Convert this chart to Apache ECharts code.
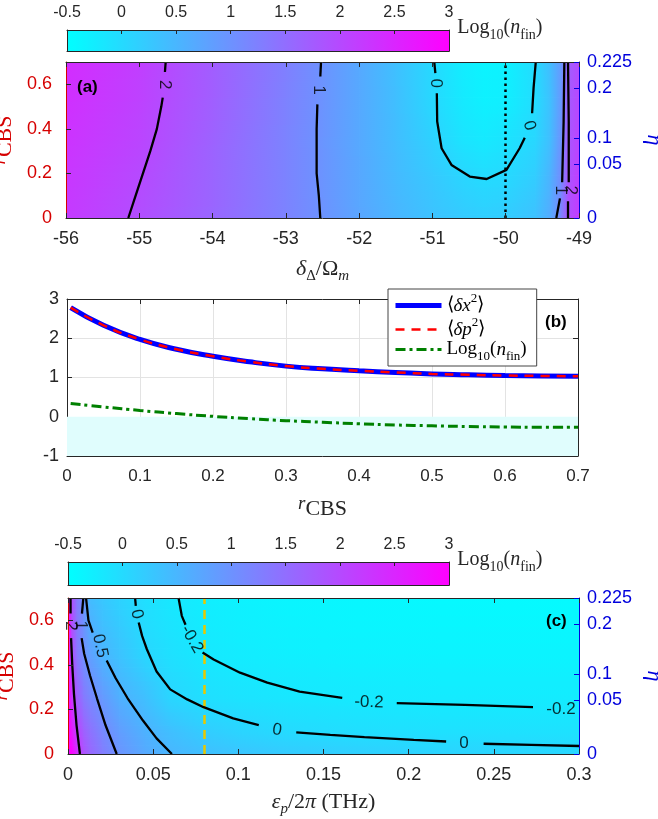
<!DOCTYPE html>
<html>
<head>
<meta charset="utf-8">
<script src="https://cdn.jsdelivr.net/npm/echarts@6/dist/echarts.min.js"></script>
<style>
  html, body { margin: 0; padding: 0; background: #fff; }
  #chart { width: 658px; height: 819px; }
</style>
</head>
<body>
<div id="chart"></div>
<script>
// colorbar
const cbTicks = [-0.5, 0, 0.5, 1, 1.5, 2, 2.5, 3];

// eta axis (right side of a and c): eta label -> r_CBS position
const etaLabels = ['0', '0.05', '0.1', '0.2', '0.225'];
const etaAtR = [0, 0.243, 0.36, 0.584, 0.7];
const rTicks = [0, 0.2, 0.4, 0.6];

// ---- panel (a): Log10(n_fin) over delta/Omega_m and r_CBS
const aX = [-56, -55, -54, -53, -52.5, -52, -51.5, -51, -50.6, -50.3, -50, -49.6, -49.4, -49.25, -49.15, -49];
const aR = [0, 0.175, 0.35, 0.525, 0.7];
const aRow0 = [2.2, 1.93, 1.6, 1.2, 0.98, 0.72, 0.5, 0.33, 0.22, 0.17, 0.2, 0.35, 0.65, 1.2, 1.9, 2.2];
const aRow1 = [2.25, 1.99, 1.62, 1.2, 0.97, 0.7, 0.45, 0.25, 0.08, 0.0, 0.03, 0.2, 0.55, 1.1, 1.85, 2.15];
const aRow2 = [2.3, 2.06, 1.65, 1.2, 0.96, 0.68, 0.4, 0.12, -0.12, -0.2, -0.12, 0.05, 0.4, 1.0, 1.8, 2.1];
const aRow3 = [2.35, 2.1, 1.7, 1.22, 0.98, 0.68, 0.38, 0.03, -0.2, -0.3, -0.27, -0.02, 0.35, 0.92, 1.75, 2.05];
const aRow4 = [2.4, 2.15, 1.72, 1.25, 0.99, 0.68, 0.36, 0.01, -0.25, -0.35, -0.32, -0.01, 0.4, 0.9, 1.7, 2.0];
const aMark = -50;

// contour segments (a)
const aC2 = [
  [[-55.15, 0], [-55.05, 0.1], [-54.95, 0.2], [-54.85, 0.3], [-54.76, 0.4], [-54.7, 0.5], [-54.68, 0.54]],
  [[-54.65, 0.655], [-54.64, 0.7]]
];
const aC1 = [
  [[-52.53, 0], [-52.55, 0.1], [-52.58, 0.2], [-52.58, 0.3], [-52.58, 0.4], [-52.57, 0.51]],
  [[-52.53, 0.635], [-52.52, 0.7]]
];
const aC0 = [
  [[-50.975, 0.7], [-50.96, 0.65]],
  [[-50.94, 0.56], [-50.935, 0.433], [-50.875, 0.313], [-50.74, 0.238], [-50.49, 0.186], [-50.26, 0.175], [-49.99, 0.216], [-49.81, 0.313], [-49.74, 0.36]],
  [[-49.64, 0.47], [-49.62, 0.583], [-49.59, 0.7]]
];
const aCr1 = [
  [[-49.2, 0.7], [-49.21, 0.43], [-49.23, 0.16]],
  [[-49.26, 0.088], [-49.31, 0]]
];
const aCr2 = [
  [[-49.15, 0.7], [-49.14, 0.43], [-49.14, 0.16]],
  [[-49.15, 0.075], [-49.15, 0]]
];
const aLabelPos = [[-54.66, 0.598], [-52.55, 0.575], [-50.95, 0.605], [-49.68, 0.415], [-49.25, 0.125], [-49.12, 0.125]];
const aLabelText = ['2', '1', '0', '0', '1', '2'];
const aLabelRot = [-90, -90, -90, -75, -90, -90];

// ---- panel (b)
const bR = [0.005, 0.05, 0.1, 0.15, 0.2, 0.25, 0.3, 0.35, 0.4, 0.45, 0.5, 0.55, 0.6, 0.65, 0.7];
const bDx2 = [2.78, 2.33, 1.97, 1.72, 1.54, 1.40, 1.29, 1.22, 1.17, 1.13, 1.09, 1.07, 1.05, 1.04, 1.03];
const bDp2 = [2.78, 2.33, 1.97, 1.72, 1.54, 1.40, 1.29, 1.22, 1.17, 1.13, 1.09, 1.07, 1.05, 1.04, 1.03];
const bLogN = [0.34, 0.25, 0.16, 0.08, 0.01, -0.05, -0.1, -0.14, -0.18, -0.21, -0.23, -0.25, -0.26, -0.27, -0.27];
const bNames = ['dx2', 'dp2', 'logn'];

// ---- panel (c): Log10(n_fin) over eps_p/2pi and r_CBS
const cX = [0, 0.002, 0.005, 0.009, 0.013, 0.02, 0.03, 0.045, 0.06, 0.08, 0.1, 0.13, 0.17, 0.22, 0.3];
const cR = [0, 0.1, 0.25, 0.45, 0.7];
const cRow0 = [3.5, 3.0, 2.4, 1.9, 1.6, 1.3, 0.97, 0.68, 0.5, 0.38, 0.3, 0.22, 0.16, 0.1, 0.06];
const cRow1 = [3.5, 2.7, 2.1, 1.7, 1.45, 1.15, 0.85, 0.57, 0.38, 0.2, 0.1, 0.0, -0.05, -0.08, -0.1];
const cRow2 = [3.4, 2.3, 1.75, 1.35, 1.15, 0.92, 0.6, 0.38, 0.07, -0.06, -0.11, -0.16, -0.2, -0.22, -0.23];
const cRow3 = [3.3, 1.98, 1.4, 1.02, 0.8, 0.52, 0.33, 0.05, -0.08, -0.19, -0.24, -0.29, -0.32, -0.34, -0.35];
const cRow4 = [3.2, 1.95, 1.35, 1.0, 0.42, 0.27, 0.12, -0.07, -0.18, -0.27, -0.32, -0.37, -0.4, -0.42, -0.44];
const cMark = 0.08;

const cC2 = [
  [[0.0015, 0.7], [0.0015, 0.63]],
  [[0.0018, 0.52], [0.0025, 0.4], [0.0035, 0.27], [0.005, 0.13], [0.007, 0]]
];
const cC1 = [
  [[0.009, 0.7], [0.0082, 0.63]],
  [[0.008, 0.52], [0.0095, 0.45], [0.013, 0.35], [0.017, 0.25], [0.022, 0.13], [0.0286, 0]]
];
const cC05 = [
  [[0.0106, 0.7], [0.012, 0.6], [0.0145, 0.545]],
  [[0.0227, 0.42], [0.028, 0.34], [0.035, 0.25], [0.044, 0.15], [0.052, 0.07], [0.061, 0]]
];
const cC0 = [
  [[0.0394, 0.7], [0.0398, 0.665]],
  [[0.0415, 0.59], [0.0435, 0.53], [0.0463, 0.47], [0.052, 0.37], [0.06, 0.29], [0.07, 0.245], [0.0796, 0.21], [0.097, 0.16], [0.112, 0.13]],
  [[0.134, 0.097], [0.154, 0.086], [0.174, 0.076], [0.203, 0.063], [0.222, 0.056]],
  [[0.244, 0.046], [0.272, 0.041], [0.3, 0.036]]
];
const cCm02 = [
  [[0.0649, 0.7], [0.0668, 0.62], [0.069, 0.58]],
  [[0.079, 0.455], [0.0855, 0.424], [0.101, 0.365], [0.117, 0.32], [0.136, 0.28], [0.154, 0.26], [0.161, 0.252]],
  [[0.193, 0.228], [0.233, 0.22], [0.273, 0.21]]
];
const cLabelPos = [[0.0016, 0.575], [0.0075, 0.578], [0.0188, 0.485], [0.0404, 0.628], [0.0727, 0.515],
                   [0.1227, 0.108], [0.1767, 0.232], [0.2325, 0.047], [0.2894, 0.202]];
const cLabelText = ['2', '1', '0.5', '0', '-0.2', '0', '-0.2', '0', '-0.2'];
const cLabelRot = [-90, -90, -78, -78, -60, -8, -2, 0, 0];

// ---------- helpers
const TXT = '#262626', RED = '#d60000', BLUE = '#0000dd';
const SANS = 'Liberation Sans', SERIF = 'Liberation Serif';

function cool(v) {
  const lo = cbTicks[0], hi = cbTicks[cbTicks.length - 1];
  const t = Math.min(1, Math.max(0, (v - lo) / (hi - lo)));
  return 'rgb(' + Math.round(255 * t) + ',' + Math.round(255 * (1 - t)) + ',255)';
}

function cells(xs, ys, rows) {
  const out = [];
  for (let i = 0; i < ys.length - 1; i++) {
    for (let j = 0; j < xs.length - 1; j++) {
      out.push([xs[j], xs[j + 1], ys[i], ys[i + 1], rows[i][j], rows[i][j + 1], rows[i + 1][j], rows[i + 1][j + 1]]);
    }
  }
  return out;
}

function renderCell(params, api) {
  const x0 = api.value(0), x1 = api.value(1), y0 = api.value(2), y1 = api.value(3);
  const v00 = api.value(4), v10 = api.value(5), v01 = api.value(6), v11 = api.value(7);
  const p0 = api.coord([x0, y0]), p1 = api.coord([x1, y1]);
  const n = 10, h = (p1[1] - p0[1]) / n, children = [];
  for (let k = 0; k < n; k++) {
    const f = (k + 0.5) / n;
    const vl = v00 + (v01 - v00) * f, vr = v10 + (v11 - v10) * f;
    children.push({
      type: 'rect',
      shape: { x: p0[0], y: p0[1] + h * (k + 1), width: p1[0] - p0[0] + 0.8, height: -h + 0.8 },
      style: { fill: { type: 'linear', x: 0, y: 0, x2: 1, y2: 0,
        colorStops: [{ offset: 0, color: cool(vl) }, { offset: 1, color: cool(vr) }] } }
    });
  }
  return { type: 'group', children: children };
}

function mathRich(color, size) {
  return {
    n: { fontFamily: SERIF, fontSize: size, lineHeight: size + 8, color: color },
    i: { fontFamily: SERIF, fontSize: size, lineHeight: size + 8, color: color, fontStyle: 'italic' },
    s: { fontFamily: SERIF, fontSize: Math.round(size * 0.7), lineHeight: Math.round(size * 0.7), color: color, verticalAlign: 'bottom' },
    si: { fontFamily: SERIF, fontSize: Math.round(size * 0.7), lineHeight: Math.round(size * 0.7), color: color, fontStyle: 'italic', verticalAlign: 'bottom' },
    p: { fontFamily: SERIF, fontSize: Math.round(size * 0.7), lineHeight: Math.round(size * 0.7), color: color, verticalAlign: 'top' },
    r: { fontFamily: SERIF, fontSize: Math.round(size * 0.85), lineHeight: Math.round(size * 0.85), color: color, fontStyle: 'italic', verticalAlign: 'top' }
  };
}

function boxAxis(grid, pos, min, max, opts) {
  return Object.assign({
    gridIndex: grid, position: pos, type: 'value', min: min, max: max, z: 10,
    axisLine: { show: true, onZero: false, lineStyle: { color: TXT, width: 1 } },
    axisTick: { show: false }, axisLabel: { show: false }, splitLine: { show: false }
  }, opts || {});
}

const logName = '{n|Log}{s|10}{n|(}{i|n}{s|fin}{n|)}';

function cbAxis(grid) {
  return boxAxis(grid, 'top', cbTicks[0], cbTicks[cbTicks.length - 1], {
    interval: 0.5,
    axisTick: { show: true, inside: true, length: 4, lineStyle: { color: TXT } },
    axisLabel: { show: true, margin: 9, color: TXT, fontFamily: SANS, fontSize: 16,
      formatter: v => String(v) },
    name: logName, nameLocation: 'end', nameGap: 8,
    nameTextStyle: { rich: mathRich(TXT, 20), verticalAlign: 'middle', padding: [0, 0, 4, 0] }
  });
}

function rAxis(grid) {
  return boxAxis(grid, 'left', 0, 0.7, {
    axisLine: { show: true, onZero: false, lineStyle: { color: RED } },
    axisTick: { show: true, inside: true, length: 5, customValues: rTicks, lineStyle: { color: TXT } },
    axisLabel: { show: true, customValues: rTicks, margin: 14, color: RED, fontFamily: SANS, fontSize: 18,
      formatter: v => String(v) },
    name: '{r|r}{n|CBS}', nameLocation: 'middle', nameGap: 35,
    nameTextStyle: { rich: mathRich(RED, 22) }
  });
}

function etaAxis(grid) {
  return boxAxis(grid, 'right', 0, 0.7, {
    axisLine: { show: true, onZero: false, lineStyle: { color: BLUE } },
    axisTick: { show: true, inside: true, length: 5, customValues: etaAtR, lineStyle: { color: BLUE } },
    axisLabel: { show: true, customValues: etaAtR, margin: 8, color: BLUE, fontFamily: SANS, fontSize: 18,
      formatter: v => etaLabels[etaAtR.indexOf(v)] },
    name: '{i|η}', nameLocation: 'middle', nameGap: 58, nameRotate: -90,
    nameTextStyle: { rich: mathRich(BLUE, 22) }
  });
}

function contourSeries(segs, xi, yi) {
  return segs.map(seg => ({
    type: 'line', xAxisIndex: xi, yAxisIndex: yi, data: seg, symbol: 'none', silent: true,
    lineStyle: { color: '#000', width: 2.3 }, z: 5, animation: false, clip: true
  }));
}

function labelSeries(pos, text, rot, xi, yi) {
  return {
    type: 'scatter', xAxisIndex: xi, yAxisIndex: yi, symbolSize: 0, silent: true, z: 6, animation: false,
    data: pos.map((p, k) => ({
      value: p,
      label: { show: true, position: 'inside', formatter: text[k], rotate: rot[k],
        color: '#000', fontFamily: SANS, fontSize: 17 }
    }))
  };
}

// ---------- option
const xAxes = [
  cbAxis(0),
  boxAxis(0, 'bottom', cbTicks[0], cbTicks[cbTicks.length - 1]),
  boxAxis(1, 'bottom', aX[0], aX[aX.length - 1], {
    interval: 1,
    axisTick: { show: true, inside: true, length: 5, lineStyle: { color: TXT } },
    axisLabel: { show: true, margin: 12, color: TXT, fontFamily: SANS, fontSize: 18 },
    name: '{i|δ}{s|Δ}{n|/Ω}{si|m}', nameLocation: 'middle', nameGap: 36,
    nameTextStyle: { rich: mathRich(TXT, 22) }
  }),
  boxAxis(1, 'top', aX[0], aX[aX.length - 1], {
    interval: 1, axisTick: { show: true, inside: true, length: 5, lineStyle: { color: TXT } }
  }),
  boxAxis(2, 'bottom', 0, 0.7, {
    interval: 0.1, z: 0,
    axisTick: { show: true, inside: true, length: 5, lineStyle: { color: TXT } },
    axisLabel: { show: true, margin: 12, color: TXT, fontFamily: SANS, fontSize: 17 },
    splitLine: { show: true, lineStyle: { color: '#e3e3e3', width: 1 } },
    name: '{r|r}{n|CBS}', nameLocation: 'middle', nameGap: 38,
    nameTextStyle: { rich: mathRich(TXT, 22) }
  }),
  boxAxis(2, 'top', 0, 0.7, {
    interval: 0.1, z: 0, axisTick: { show: true, inside: true, length: 5, lineStyle: { color: TXT } }
  }),
  cbAxis(3),
  boxAxis(3, 'bottom', cbTicks[0], cbTicks[cbTicks.length - 1]),
  boxAxis(4, 'bottom', 0, 0.3, {
    interval: 0.05,
    axisTick: { show: true, inside: true, length: 5, lineStyle: { color: TXT } },
    axisLabel: { show: true, margin: 12, color: TXT, fontFamily: SANS, fontSize: 18 },
    name: '{i|ε}{si|p}{n|/2}{i|π}{n| (THz)}', nameLocation: 'middle', nameGap: 33,
    nameTextStyle: { rich: mathRich(TXT, 22) }
  }),
  boxAxis(4, 'top', 0, 0.3, {
    interval: 0.05, axisTick: { show: true, inside: true, length: 5, lineStyle: { color: TXT } }
  })
];

const yAxes = [
  boxAxis(0, 'left', 0, 1),
  boxAxis(0, 'right', 0, 1),
  rAxis(1),
  etaAxis(1),
  boxAxis(2, 'left', -1, 3, {
    interval: 1, z: 0,
    axisTick: { show: true, inside: true, length: 5, lineStyle: { color: TXT } },
    axisLabel: { show: true, margin: 8, color: TXT, fontFamily: SANS, fontSize: 18 },
    splitLine: { show: true, lineStyle: { color: '#e3e3e3', width: 1 } }
  }),
  boxAxis(2, 'right', -1, 3, {
    interval: 1, z: 0, axisTick: { show: true, inside: true, length: 5, lineStyle: { color: TXT } }
  }),
  boxAxis(3, 'left', 0, 1),
  boxAxis(3, 'right', 0, 1),
  rAxis(4),
  etaAxis(4)
];

const cbCell = [[cbTicks[0], cbTicks[cbTicks.length - 1], 0, 1,
  cbTicks[0], cbTicks[cbTicks.length - 1], cbTicks[0], cbTicks[cbTicks.length - 1]]];

const legendRich = mathRich('#000', 19);
const legendText = {
  dx2: '{n|⟨}{i|δx}{p|2}{n|⟩}',
  dp2: '{n|⟨}{i|δp}{p|2}{n|⟩}',
  logn: logName
};

const series = [
  { type: 'custom', xAxisIndex: 0, yAxisIndex: 0, renderItem: renderCell, data: cbCell, z: -1,
    encode: { x: [0, 1], y: [2, 3] }, silent: true, animation: false },
  { type: 'custom', xAxisIndex: 6, yAxisIndex: 6, renderItem: renderCell, data: cbCell, z: -1,
    encode: { x: [0, 1], y: [2, 3] }, silent: true, animation: false },
  { type: 'custom', xAxisIndex: 2, yAxisIndex: 2, renderItem: renderCell, clip: true, z: -1,
    data: cells(aX, aR, [aRow0, aRow1, aRow2, aRow3, aRow4]),
    encode: { x: [0, 1], y: [2, 3] }, silent: true, animation: false },
  { type: 'custom', xAxisIndex: 8, yAxisIndex: 8, renderItem: renderCell, clip: true, z: -1,
    data: cells(cX, cR, [cRow0, cRow1, cRow2, cRow3, cRow4]),
    encode: { x: [0, 1], y: [2, 3] }, silent: true, animation: false },
  ...contourSeries(aC2, 2, 2), ...contourSeries(aC1, 2, 2), ...contourSeries(aC0, 2, 2),
  ...contourSeries(aCr1, 2, 2), ...contourSeries(aCr2, 2, 2),
  labelSeries(aLabelPos, aLabelText, aLabelRot, 2, 2),
  ...contourSeries(cC2, 8, 8), ...contourSeries(cC1, 8, 8), ...contourSeries(cC05, 8, 8),
  ...contourSeries(cC0, 8, 8), ...contourSeries(cCm02, 8, 8),
  labelSeries(cLabelPos, cLabelText, cLabelRot, 8, 8),
  { type: 'line', xAxisIndex: 2, yAxisIndex: 2, data: [], symbol: 'none', silent: true, z: 5, animation: false,
    markLine: { silent: true, symbol: 'none', label: { show: false },
      lineStyle: { type: [2.5, 3.5], color: '#000', width: 2.5 }, data: [{ xAxis: aMark }] } },
  { type: 'line', xAxisIndex: 8, yAxisIndex: 8, data: [], symbol: 'none', silent: true, z: 4, animation: false,
    markLine: { silent: true, symbol: 'none', label: { show: false },
      lineStyle: { type: [9, 6], color: '#e8c800', width: 2.5 }, data: [{ xAxis: cMark }] } },
  { name: bNames[0], type: 'line', xAxisIndex: 4, yAxisIndex: 4, symbol: 'none', smooth: true,
    data: bR.map((r, k) => [r, bDx2[k]]), lineStyle: { color: '#0000ff', width: 5 }, itemStyle: { color: '#0000ff' },
    z: 3, animation: false,
    markArea: { silent: true, itemStyle: { color: '#e0fdfd' }, data: [[{ yAxis: -1 }, { yAxis: 0 }]] } },
  { name: bNames[1], type: 'line', xAxisIndex: 4, yAxisIndex: 4, symbol: 'none', smooth: true,
    data: bR.map((r, k) => [r, bDp2[k]]), lineStyle: { color: '#ff0000', width: 2.5, type: [9, 7] },
    itemStyle: { color: '#ff0000' }, z: 4, animation: false },
  { name: bNames[2], type: 'line', xAxisIndex: 4, yAxisIndex: 4, symbol: 'none', smooth: true,
    data: bR.map((r, k) => [r, bLogN[k]]), lineStyle: { color: '#008000', width: 3, type: [10, 4, 3, 4] },
    itemStyle: { color: '#008000' }, z: 4, animation: false }
];

const panelTag = (x, y, t) => ({ type: 'text', left: x, top: y, z: 100,
  style: { text: t, font: 'bold 17px "Liberation Sans"', fill: '#000' } });

const gridBase = { containLabel: false, outerBoundsMode: 'none' };

const option = {
  animation: false,
  backgroundColor: '#fff',
  grid: [
    Object.assign({ left: 67, top: 30, width: 382, height: 21 }, gridBase),
    Object.assign({ left: 66, top: 62, width: 513, height: 156 }, gridBase),
    Object.assign({ left: 67, top: 299, width: 511, height: 157 }, gridBase),
    Object.assign({ left: 68, top: 562, width: 381, height: 23 }, gridBase),
    Object.assign({ left: 68, top: 598, width: 511, height: 156 }, gridBase)
  ],
  xAxis: xAxes,
  yAxis: yAxes,
  legend: {
    data: bNames, left: 388, top: 289, orient: 'vertical',
    backgroundColor: '#fff', borderColor: '#444', borderWidth: 1, borderRadius: 0,
    padding: [3, 10, 3, 5], itemGap: 1, itemWidth: 46, itemHeight: 14,
    itemStyle: { color: 'rgba(0,0,0,0)', borderWidth: 0 },
    lineStyle: { width: 'inherit' },
    formatter: name => legendText[name],
    textStyle: { rich: legendRich }
  },
  graphic: [panelTag(77, 79, '(a)'), panelTag(545, 314, '(b)'), panelTag(546, 613, '(c)')],
  series: series
};

const chart = echarts.init(document.getElementById('chart'));
chart.setOption(option);
</script>
</body>
</html>
